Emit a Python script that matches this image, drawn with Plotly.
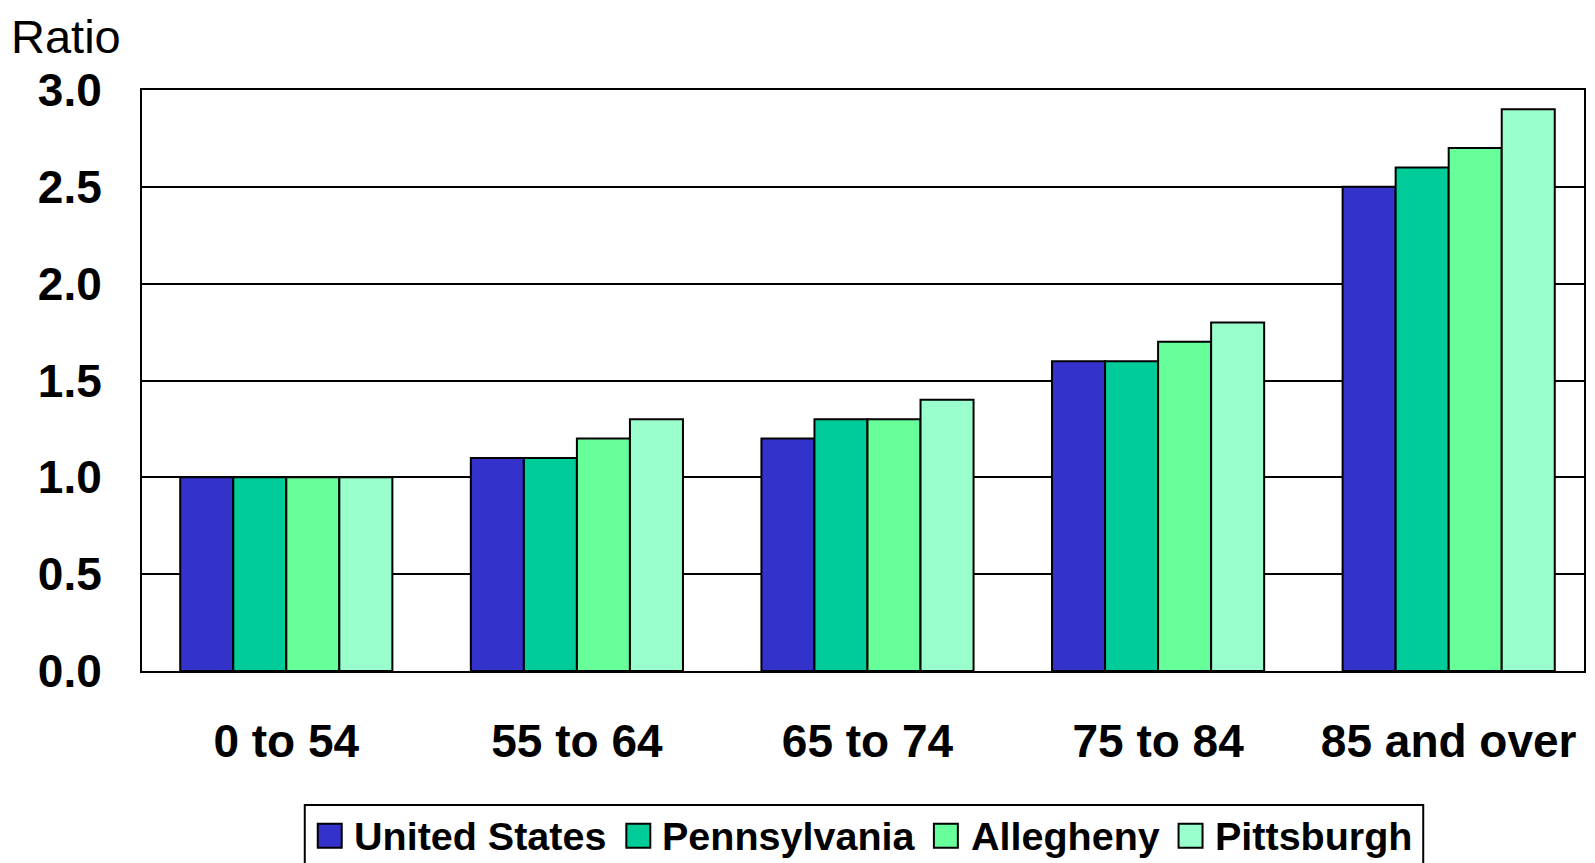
import plotly.graph_objects as go

categories = ["0 to 54", "55 to 64", "65 to 74", "75 to 84", "85 and over"]
series_names = ["United States", "Pennsylvania", "Allegheny", "Pittsburgh"]
us_values = [1.0, 1.1, 1.2, 1.6, 2.5]
pa_values = [1.0, 1.1, 1.3, 1.6, 2.6]
allegheny_values = [1.0, 1.2, 1.3, 1.7, 2.7]
pittsburgh_values = [1.0, 1.3, 1.4, 1.8, 2.9]
colors = ["#3333CC", "#00CC99", "#66FF99", "#99FFCC"]
y_ticks = [0.0, 0.5, 1.0, 1.5, 2.0, 2.5, 3.0]

series_values = [us_values, pa_values, allegheny_values, pittsburgh_values]

OFF = 8  # browser default body margin
W, H = 1595 - 2 * OFF, 863 - OFF
# plot area in page pixels
L, R, T, B = 142, 1586, 89.5, 671
# reference category band
CAT0, CATW = 141.0, 291.0
x_range = [(L - CAT0) / CATW - 0.5, (R - CAT0) / CATW - 0.5]

FONT = "Liberation Sans, Arial, sans-serif"

fig = go.Figure()
for name, vals, col in zip(series_names, series_values, colors):
    fig.add_trace(go.Bar(
        name=name, x=categories, y=vals,
        marker=dict(color=col, line=dict(color="black", width=2)),
        showlegend=False,
    ))

def px_x(p):
    return (p - L) / (R - L)

def px_y(p):
    return (B - p) / (B - T)

shapes = []
annotations = []

shapes.append(dict(type="rect", xref="paper", yref="paper",
                   x0=px_x(305), x1=px_x(1425), y0=px_y(885), y1=px_y(805),
                   line=dict(color="black", width=2), fillcolor="white", layer="above"))
sq_x = [318, 627, 935, 1180]
txt_x = [352, 661, 970, 1214]
for i, name in enumerate(series_names):
    shapes.append(dict(type="rect", xref="paper", yref="paper",
                       x0=px_x(sq_x[i]), x1=px_x(sq_x[i] + 24),
                       y0=px_y(848), y1=px_y(824),
                       line=dict(color="black", width=2), fillcolor=colors[i], layer="above"))
    annotations.append(dict(text="<b>%s</b>" % name, xref="paper", yref="paper",
                            x=px_x(txt_x[i]), y=px_y(836), xanchor="left", yanchor="middle",
                            showarrow=False, font=dict(family=FONT, size=39.5, color="black")))

annotations.append(dict(text="Ratio", xref="paper", yref="paper",
                        x=px_x(10), y=px_y(OFF + 0.5), xanchor="left", yanchor="top",
                        borderpad=0,
                        showarrow=False, font=dict(family=FONT, size=47, color="black")))

fig.update_layout(
    width=W, height=H,
    margin=dict(l=L - OFF, r=(OFF + W) - R, t=T - OFF, b=(OFF + H) - B, pad=0),
    paper_bgcolor="white", plot_bgcolor="white",
    barmode="group", bargap=0.27, bargroupgap=0,
    font=dict(family=FONT, color="black"),
    shapes=shapes, annotations=annotations,
    showlegend=False,
)
fig.update_xaxes(
    range=x_range,
    showline=True, linecolor="black", linewidth=2, mirror=True,
    ticks="", showgrid=False,
    tickfont=dict(family=FONT, size=46, color="black", weight="bold"),
    ticklabelstandoff=29,
)
fig.update_yaxes(
    range=[0, 3], tickvals=y_ticks, tickformat=".1f",
    showline=True, linecolor="black", linewidth=2, mirror=True,
    showgrid=True, gridcolor="black", gridwidth=1.5,
    zeroline=False, ticks="",
    tickfont=dict(family=FONT, size=46, color="black", weight="bold"),
    ticklabelstandoff=29,
)

fig.write_html("out.html")
